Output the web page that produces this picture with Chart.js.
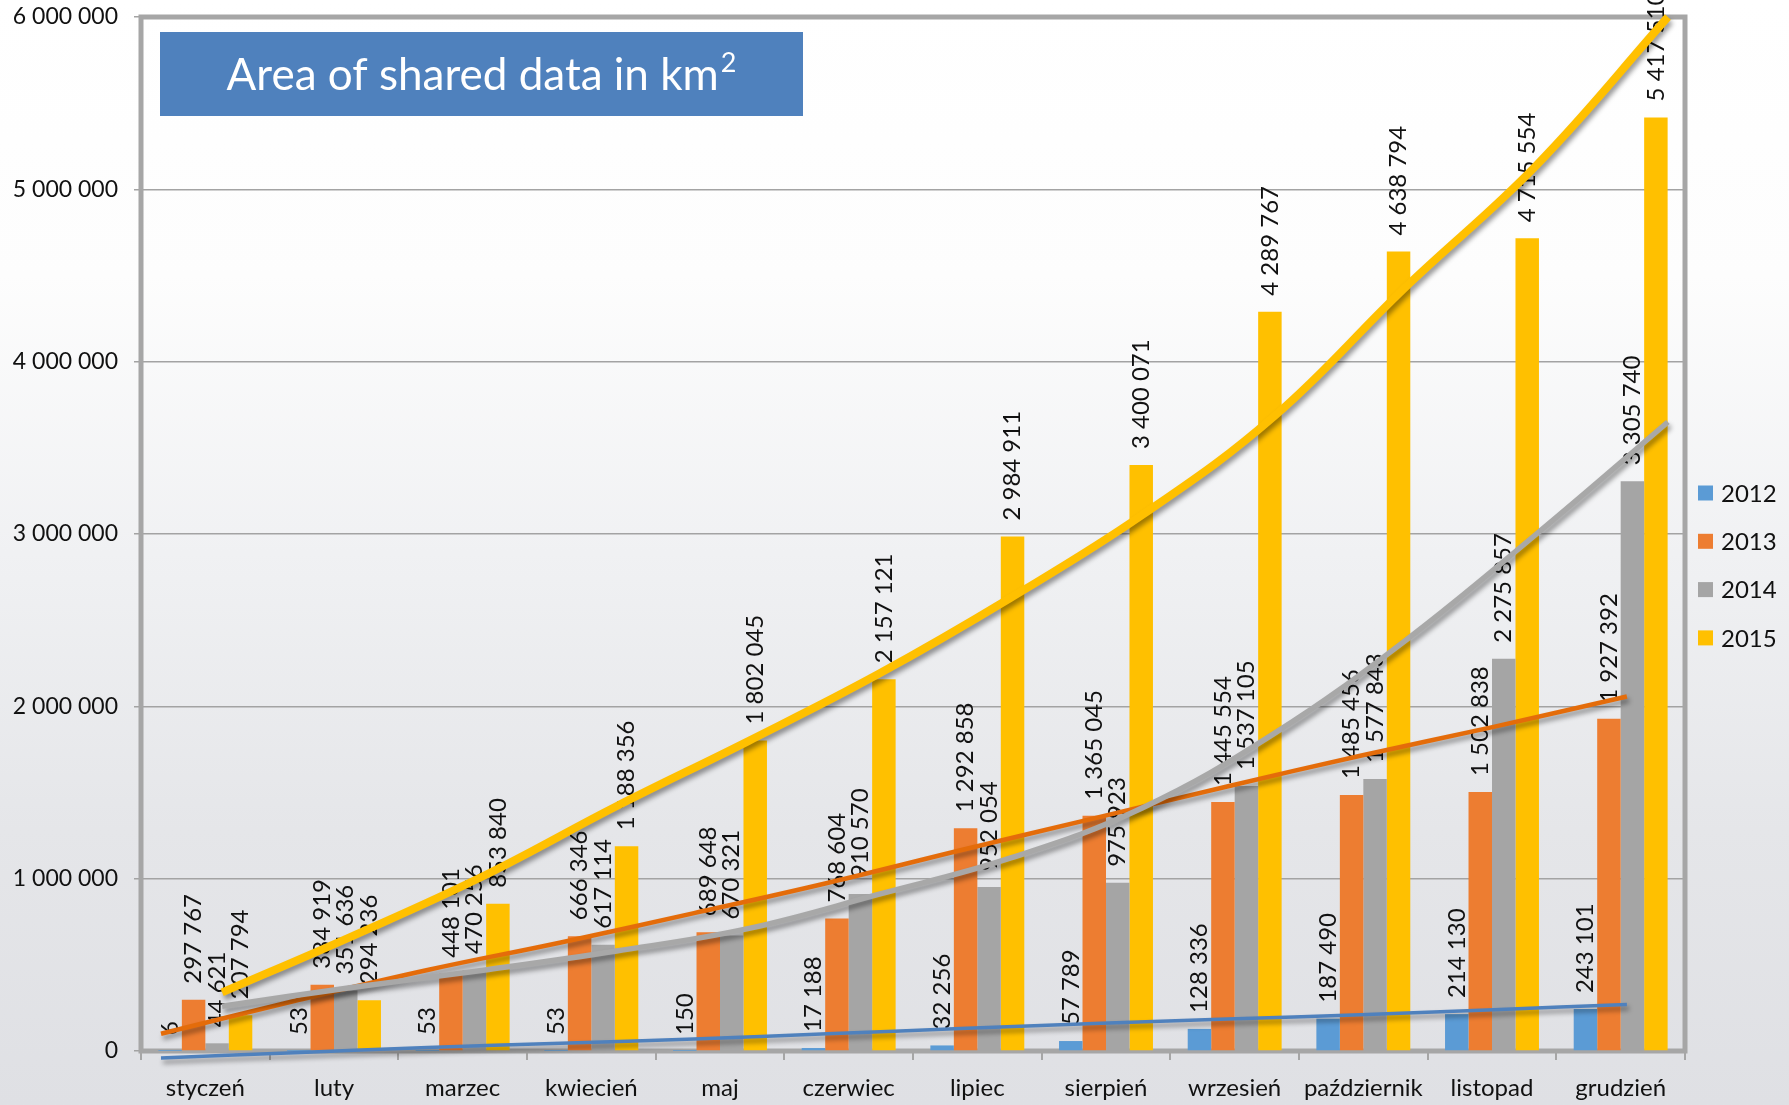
<!DOCTYPE html>
<html>
<head>
<meta charset="utf-8">
<title>Area of shared data in km2</title>
<script src="https://cdn.jsdelivr.net/npm/chart.js@4.4.1/dist/chart.umd.min.js"></script>
<style>
    html, body { margin: 0; padding: 0; }
    body {
        width: 1789px; height: 1105px; overflow: hidden;
        background: linear-gradient(to bottom, #ffffff 0%, #fdfdfd 25%, #f0f1f3 50%, #e5e6e9 75%, #dfe0e4 100%);
    }
    #graph-container { position: relative; width: 1789px; height: 1105px; }
</style>
</head>
<body>
<div id="graph-container"><canvas id="myChart"></canvas></div>
<script>
var months = ['styczeń', 'luty', 'marzec', 'kwiecień', 'maj', 'czerwiec', 'lipiec', 'sierpień', 'wrzesień', 'październik', 'listopad', 'grudzień'];
var years = ['2012', '2013', '2014', '2015'];

var values2012 = [6, 53, 53, 53, 150, 17188, 32256, 57789, 128336, 187490, 214130, 243101];
var values2013 = [297767, 384919, 448101, 666346, 689648, 768604, 1292858, 1365045, 1445554, 1485456, 1502838, 1927392];
var values2014 = [44621, 351636, 470256, 617114, 670321, 910570, 952054, 975923, 1537105, 1577843, 2275857, 3305740];
var values2015 = [207794, 294236, 853840, 1188356, 1802045, 2157121, 2984911, 3400071, 4289767, 4638794, 4715554, 5417510];

// trend lines
var trend2012 = [-40000, -10000, 20000, 45000, 70000, 100000, 130000, 160000, 185000, 210000, 240000, 270000];
var trend2013 = [100000, 290000, 470000, 630000, 800000, 975000, 1165000, 1350000, 1535000, 1713000, 1881000, 2057000];
var trend2014 = [260000, 370000, 470000, 580000, 710000, 910000, 1120000, 1410000, 1840000, 2380000, 3000000, 3650000];
var trend2015 = [340000, 670000, 1020000, 1420000, 1797000, 2190000, 2630000, 3110000, 3680000, 4430000, 5140000, 6000000];

var yTicks = [0, 1000000, 2000000, 3000000, 4000000, 5000000, 6000000];
var chartTitle = 'Area of shared data in km';

var barColors = ['#5b9bd5', '#ed7d31', '#a5a5a5', '#ffc000'];
var trendColors = ['#4f81bd', '#e46c0a', '#a8a8a8', '#ffc000'];


function fmt(v) {
    return String(v).replace(/\B(?=(\d{3})+(?!\d))/g, ' ');
}

function toPoints(arr) {
    return arr.map(function (v, i) { return { x: i, y: v }; });
}

var barValues = [values2012, values2013, values2014, values2015];
var trendValues = [trend2012, trend2013, trend2014, trend2015];
var trendWidths = [3.5, 4.5, 5.5, 8];
var trendAxes = ['tA', 'tA', 'tB', 'tB'];

var datasets = [];
for (var i = 0; i < years.length; i++) {
    datasets.push({
        type: 'bar',
        label: years[i],
        data: barValues[i],
        backgroundColor: barColors[i],
        borderWidth: 0,
        categoryPercentage: 0.73,
        barPercentage: 1.0,
        indexAxis: 'x',
        order: 10,
        xAxisID: 'x'
    });
}
for (var j = 0; j < years.length; j++) {
    datasets.push({
        type: 'line',
        label: 'trend ' + years[j],
        data: toPoints(trendValues[j]),
        borderColor: trendColors[j],
        borderWidth: trendWidths[j],
        pointRadius: 0,
        fill: false,
        tension: 0.4,
        clip: false,
        indexAxis: 'x',
        order: 3 - j,
        xAxisID: trendAxes[j]
    });
}

// labels on bars, shadows under trend lines, frame, title box and legend
var chartDecor = {
    id: 'chartDecor',
    beforeDatasetsDraw: function (chart) {
        var c = chart.ctx, a = chart.chartArea;
        c.save();
        c.strokeStyle = '#a6a6a6';
        c.lineWidth = 5;
        c.strokeRect(a.left, a.top, a.right - a.left, a.bottom - a.top);
        c.restore();
    },
    beforeDatasetDraw: function (chart, args) {
        if (args.meta.type !== 'line') return;
        var c = chart.ctx;
        c.save();
        c.shadowColor = 'rgba(0,0,0,0.4)';
        c.shadowBlur = 5;
        c.shadowOffsetX = 2;
        c.shadowOffsetY = 4;
    },
    afterDatasetDraw: function (chart, args) {
        var c = chart.ctx;
        if (args.meta.type === 'line') {
            c.restore();
            return;
        }
        var vals = chart.data.datasets[args.index].data;
        c.save();
        c.font = '24px Lato';
        c.fillStyle = '#111111';
        c.textAlign = 'left';
        c.textBaseline = 'middle';
        args.meta.data.forEach(function (bar, k) {
            c.save();
            c.translate(bar.x, bar.y - 16);
            c.rotate(-Math.PI / 2);
            c.fillText(fmt(vals[k]), 0, 0);
            c.restore();
        });
        c.restore();
    },
    afterDraw: function (chart) {
        var c = chart.ctx, a = chart.chartArea;
        // title box
        var bx = a.left + 19, by = a.top + 15, bw = 643, bh = 84;
        c.save();
        c.fillStyle = '#4f81bd';
        c.fillRect(bx, by, bw, bh);
        c.fillStyle = '#ffffff';
        c.textBaseline = 'alphabetic';
        c.font = '44px Lato';
        var w1 = c.measureText(chartTitle).width;
        c.font = '27px Lato';
        var w2 = c.measureText('2').width;
        var sx = bx + (bw - w1 - w2 - 2) / 2;
        c.font = '44px Lato';
        c.fillText(chartTitle, sx, by + 58);
        c.font = '27px Lato';
        c.fillText('2', sx + w1 + 2, by + 40);

        // legend
        var lx = a.right + 13, ly = 493;
        c.font = '24px Lato';
        c.textBaseline = 'middle';
        c.textAlign = 'left';
        for (var k = 0; k < years.length; k++) {
            var yy = ly + k * 48.3;
            c.fillStyle = barColors[k];
            c.fillRect(lx, yy - 7.5, 15, 15);
            c.fillStyle = '#111111';
            c.fillText(years[k], lx + 23, yy + 1);
        }
        c.restore();
    }
};

var ctx = document.getElementById('myChart').getContext('2d');
var myChart = new Chart(ctx, {
    type: 'bar',
    data: {
        labels: months,
        datasets: datasets
    },
    options: {
        // every dataset sets indexAxis 'x' itself; 'y' here keeps the bar
        // grouping from counting the hidden trend axes as extra bar axes
        indexAxis: 'y',
        responsive: true,
        maintainAspectRatio: false,
        animation: false,
        layout: { padding: { left: 10, top: 17, right: 104, bottom: 0 } },
        plugins: {
            legend: { display: false },
            tooltip: { enabled: false }
        },
        scales: {
            x: {
                type: 'category',
                offset: true,
                grid: { offset: true, drawOnChartArea: false, color: '#a6a6a6', lineWidth: 2, tickLength: 9 },
                border: { display: false },
                ticks: { color: '#111111', font: { family: 'Lato', size: 24 }, padding: 14, maxRotation: 0, autoSkip: false },
                afterFit: function (s) { s.height = 54; }
            },
            y: {
                type: 'linear',
                offset: false,
                min: 0,
                max: 6000000,
                grid: { offset: false, color: '#a3a3a3', lineWidth: 1.5, tickLength: 7 },
                border: { display: false },
                ticks: {
                    color: '#111111',
                    font: { family: 'Lato', size: 23 },
                    padding: 16,
                    callback: function (v) { return fmt(v); }
                },
                afterBuildTicks: function (s) {
                    s.ticks = yTicks.map(function (v) { return { value: v }; });
                },
                afterFit: function (s) {
                    s.width = 131;
                    s.paddingTop = 0;
                }
            },
            // hidden axes placing the trend lines the way the original drawing has them
            tA: { type: 'linear', axis: 'x', display: false, offset: false, bounds: 'data', grid: { offset: false }, min: -0.15, max: 11.436 },
            tB: { type: 'linear', axis: 'x', display: false, offset: false, bounds: 'data', grid: { offset: false }, min: -0.617, max: 11.13 }
        }
    },
    plugins: [chartDecor]
});
</script>
</body>
</html>
